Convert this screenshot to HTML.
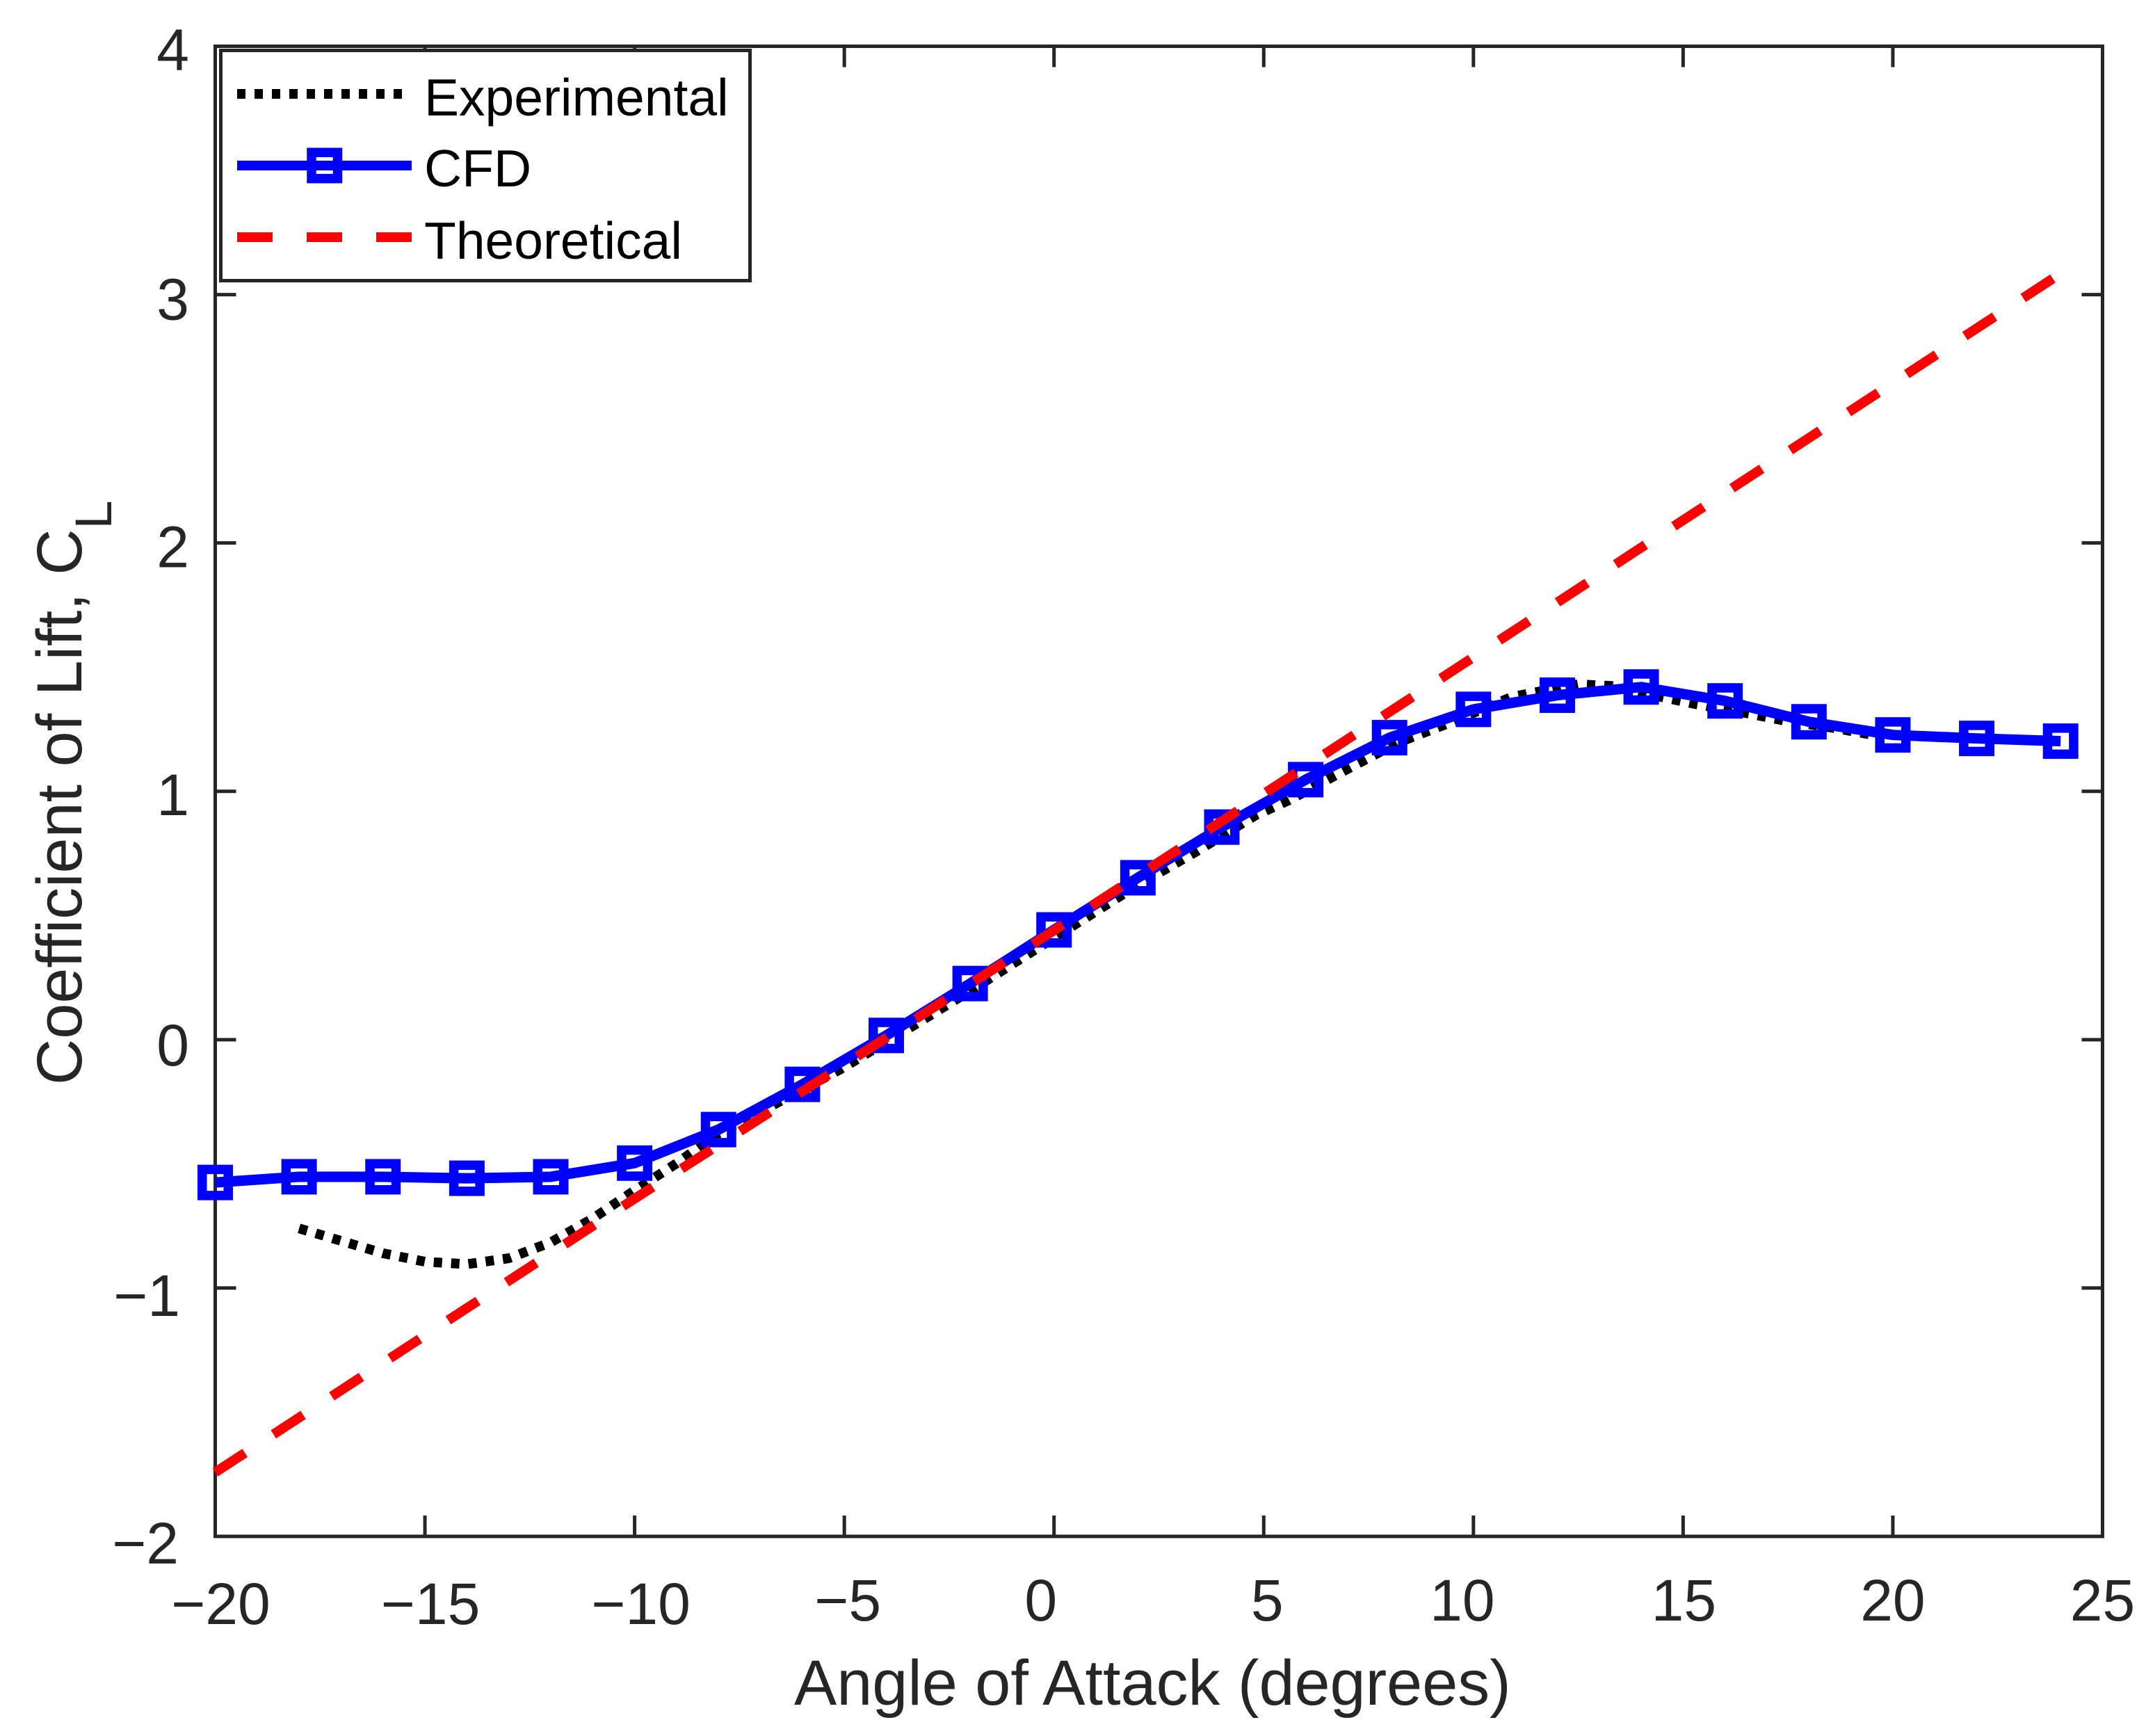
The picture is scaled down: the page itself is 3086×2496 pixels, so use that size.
<!DOCTYPE html>
<html lang="en">
<head>
<meta charset="utf-8">
<title>Coefficient of Lift vs Angle of Attack</title>
<style>
  html, body { margin: 0; padding: 0; background: #ffffff; }
  svg { display: block; }
  text { font-family: "Liberation Sans", Arial, sans-serif; fill: #262626; }
</style>
</head>
<body>
<svg id="chart" xmlns="http://www.w3.org/2000/svg" width="3086" height="2496" viewBox="0 0 3086 2496">
  <rect x="0" y="0" width="3086" height="2496" fill="#ffffff"/>
  <g id="axes-layer"></g>
  <g id="series-layer"></g>

  <text x="1142" y="2451" font-size="91.8">Angle of Attack (degrees)</text>
  <text transform="translate(117,1560) rotate(-90)" font-size="91.8">Coefficient of Lift, C<tspan dy="43" font-size="74">L</tspan></text>

  <g>
    <rect x="317.5" y="72.5" width="761" height="331" fill="#ffffff" stroke="#262626" stroke-width="5"/>
    <g>
      <line x1="341" y1="135" x2="580" y2="135" stroke="#000000" stroke-width="14" stroke-dasharray="12 13"/>
      <text x="610" y="166" font-size="75" style="fill:#000000">Experimental</text>
    </g>
    <g>
      <line x1="341" y1="238" x2="592" y2="238" stroke="#0000ff" stroke-width="14"/>
      <rect x="448" y="219.25" width="37.5" height="37.5" fill="none" stroke="#0000ff" stroke-width="13.5"/>
      <text x="610" y="268" font-size="75" style="fill:#000000">CFD</text>
    </g>
    <g>
      <line x1="341" y1="341" x2="592" y2="341" stroke="#ff0000" stroke-width="14" stroke-dasharray="51 49"/>
      <text x="610" y="372" font-size="75" style="fill:#000000">Theoretical</text>
    </g>
  </g>
</svg>

<script>
// ---- chart data ----
const xTickValues = [-20, -15, -10, -5, 0, 5, 10, 15, 20, 25];
const xTickLabels = ['\u221220', '\u221215', '\u221210', '\u22125', '0', '5', '10', '15', '20', '25'];
const yTickValues = [-2, -1, 0, 1, 2, 3, 4];
const yTickLabels = ['\u22122', '\u22121', '0', '1', '2', '3', '4'];

const cfdAngle = [-20, -18, -16, -14, -12, -10, -8, -6, -4, -2, 0, 2, 4, 6, 8, 10, 12, 14, 16, 18, 20, 22, 24];
const cfdLift = [-0.575, -0.552, -0.552, -0.558, -0.552, -0.497, -0.362, -0.18, 0.017, 0.226, 0.442, 0.652, 0.856, 1.047, 1.216, 1.33, 1.387, 1.42, 1.364, 1.28, 1.227, 1.213, 1.202];

const expAngle = [-18, -17, -16, -15, -14, -13, -12, -11, -10, -9, -8, -7, -5.1, -3.3, -1.9, -0.5, 0.9, 2, 3.4, 4.8, 5.6, 7, 8.2, 9.3, 10.9, 11.3, 12.5, 13.3, 14.5, 15.3, 16.5, 17.4, 18.6, 19.5];
const expLift = [-0.76, -0.81, -0.86, -0.894, -0.904, -0.88, -0.816, -0.72, -0.607, -0.498, -0.377, -0.29, -0.12, 0.062, 0.207, 0.357, 0.506, 0.623, 0.758, 0.903, 0.964, 1.09, 1.196, 1.267, 1.379, 1.393, 1.431, 1.424, 1.379, 1.351, 1.315, 1.285, 1.255, 1.228];

const theoryAngle = [-20, -10, 0, 10, 24];
const theoryLift = [-1.742, -0.64, 0.44, 1.54, 3.085];

// ---- layout (not data) ----
const plot = { left: 309.5, right: 3023.5, top: 66.5, bottom: 2209 };
const xDomain = [-20, 25];
const yDomain = [-2, 4];
const tickLen = 30;
const axisColor = '#262626';
const svgNS = 'http://www.w3.org/2000/svg';

function xScale(v) {
  return plot.left + (v - xDomain[0]) / (xDomain[1] - xDomain[0]) * (plot.right - plot.left);
}
function yScale(v) {
  return plot.bottom - (v - yDomain[0]) / (yDomain[1] - yDomain[0]) * (plot.bottom - plot.top);
}
function pointsFor(xs, ys) {
  return xs.map(function (x, i) { return xScale(x).toFixed(2) + ',' + yScale(ys[i]).toFixed(2); }).join(' ');
}
function make(tag, attrs) {
  const el = document.createElementNS(svgNS, tag);
  Object.keys(attrs).forEach(function (k) { el.setAttribute(k, attrs[k]); });
  return el;
}

// small per-label placement corrections keyed by tick label text
function xLabelOffset(label) {
  const dx = { '\u221220': 8, '\u221215': 8, '\u221210': 9, '\u22125': 5, '0': -19, '5': 5, '10': -16, '15': 1, '20': 0, '25': 0 };
  const dy = { '\u221220': 126, '\u221215': 126, '\u221210': 126 };
  return { dx: dx[label] || 0, dy: dy[label] || 121 };
}
function yLabelOffset(label) {
  const right = { '\u22122': 257, '\u22121': 259 };
  const dy = { '\u22122': 39, '\u22121': 40, '0': 37, '1': 34, '2': 35, '3': 36, '4': 34 };
  return { x: right[label] || 272, dy: dy[label] };
}

const axesLayer = document.getElementById('axes-layer');
const seriesLayer = document.getElementById('series-layer');

// ---- axes box ----
const box = make('rect', { x: plot.left, y: plot.top, width: plot.right - plot.left, height: plot.bottom - plot.top, fill: 'none', stroke: axisColor, 'stroke-width': 5 });


axesLayer.appendChild(box);

// ---- x ticks and labels ----
xTickValues.forEach(function (v, i) {
  const px = xScale(v);
  const bottomTick = make('line', { x1: px, y1: plot.bottom, x2: px, y2: plot.bottom - tickLen, stroke: axisColor, 'stroke-width': 5 });
  
  
  axesLayer.appendChild(bottomTick);

  const topTick = make('line', { x1: px, y1: plot.top, x2: px, y2: plot.top + tickLen, stroke: axisColor, 'stroke-width': 5 });
  
  
  axesLayer.appendChild(topTick);

  const off = xLabelOffset(xTickLabels[i]);
  const label = make('text', { x: px + off.dx, y: plot.bottom + off.dy, 'text-anchor': 'middle', 'font-size': 84 });
  label.textContent = xTickLabels[i];
  
  
  axesLayer.appendChild(label);
});

// ---- y ticks and labels ----
yTickValues.forEach(function (v, i) {
  const py = yScale(v);
  const leftTick = make('line', { x1: plot.left, y1: py, x2: plot.left + tickLen, y2: py, stroke: axisColor, 'stroke-width': 5 });
  
  
  axesLayer.appendChild(leftTick);

  const rightTick = make('line', { x1: plot.right, y1: py, x2: plot.right - tickLen, y2: py, stroke: axisColor, 'stroke-width': 5 });
  
  
  axesLayer.appendChild(rightTick);

  const off = yLabelOffset(yTickLabels[i]);
  const label = make('text', { x: off.x, y: py + off.dy, 'text-anchor': 'end', 'font-size': 84 });
  label.textContent = yTickLabels[i];
  
  
  axesLayer.appendChild(label);
});

// ---- series ----
const expLine = make('polyline', { points: pointsFor(expAngle, expLift), fill: 'none', stroke: '#000000', 'stroke-width': 14, 'stroke-dasharray': '12 13' });


seriesLayer.appendChild(expLine);

const cfdLine = make('polyline', { points: pointsFor(cfdAngle, cfdLift), fill: 'none', stroke: '#0000ff', 'stroke-width': 15, 'stroke-linejoin': 'round' });


seriesLayer.appendChild(cfdLine);

cfdAngle.forEach(function (a, i) {
  const side = 37.5;
  const marker = make('rect', { x: xScale(a) - side / 2, y: yScale(cfdLift[i]) - side / 2, width: side, height: side, fill: 'none', stroke: '#0000ff', 'stroke-width': 13.5 });
  
  
  seriesLayer.appendChild(marker);
});

const theoryLine = make('polyline', { points: pointsFor(theoryAngle, theoryLift), fill: 'none', stroke: '#ff0000', 'stroke-width': 14, 'stroke-dasharray': '51 49' });


seriesLayer.appendChild(theoryLine);
</script>
</body>
</html>
